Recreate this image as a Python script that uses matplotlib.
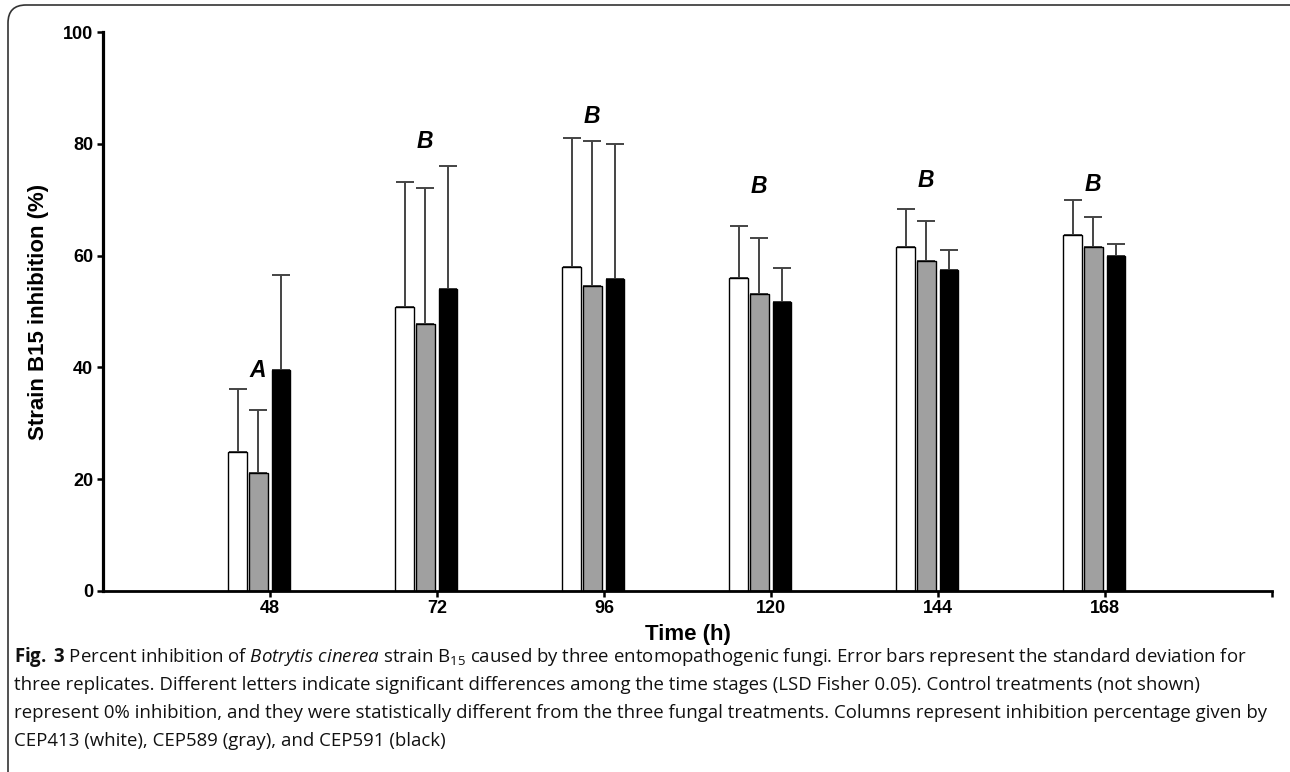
import numpy as np
import matplotlib
matplotlib.use("Agg")
import matplotlib.pyplot as plt
from matplotlib.patches import FancyBboxPatch
from matplotlib.transforms import IdentityTransform
from matplotlib.font_manager import FontProperties

# values (percent inhibition, upper SD)
times = ["48", "72", "96", "120", "144", "168"]
cep413 = [24.8, 50.8, 58.0, 56.0, 61.5, 63.7]
cep413_sd = [11.3, 22.4, 23.0, 9.3, 6.9, 6.3]
cep589 = [21.0, 47.7, 54.5, 53.2, 59.0, 61.5]
cep589_sd = [11.3, 24.4, 26.1, 10.0, 7.2, 5.5]
cep591 = [39.5, 54.0, 55.8, 51.7, 57.5, 59.9]
cep591_sd = [17.1, 22.0, 24.1, 6.0, 3.5, 2.2]
letters = ["A", "B", "B", "B", "B", "B"]
letter_y = [39.5, 80.5, 84.9, 72.3, 73.4, 72.8]

plt.rcParams["mathtext.fontset"] = "custom"
plt.rcParams["mathtext.rm"] = "Open Sans"
plt.rcParams["mathtext.it"] = "Open Sans:italic"
plt.rcParams["mathtext.bf"] = "Open Sans:bold"


def arial_bold(size, italic=False):
    return FontProperties(family="Liberation Sans", weight="bold", stretch="normal",
                          style="italic" if italic else "normal", size=size)


fig = plt.figure(figsize=(12.9, 7.72), dpi=100)
ax = fig.add_axes([103 / 1290, 1 - 590.7 / 772, (1272 - 103) / 1290, (590.7 - 32.2) / 772])

x = np.arange(len(times))
width = 0.11
series = [
    (cep413, cep413_sd, "white", -0.194),
    (cep589, cep589_sd, "#a0a0a0", -0.069),
    (cep591, cep591_sd, "black", 0.067),
]
for vals, sd, color, off in series:
    ax.bar(x + off, vals, width, color=color, edgecolor="black", linewidth=1.0, zorder=2)
    ax.errorbar(x + off, vals, yerr=[np.zeros(len(sd)), sd], fmt="none",
                ecolor="#444444", elinewidth=1.4, capsize=6.5, capthick=1.4, zorder=1)

for xi, lab, ly in zip(x, letters, letter_y):
    ax.text(xi - 0.075, ly, lab, ha="center", va="center",
            fontproperties=arial_bold(16.5, italic=True))

ax.set_xlim(-1, 6)
ax.set_ylim(0, 100)
ax.set_xticks(list(x) + [6])
ax.set_xticklabels(times + [""])
ax.set_yticks(np.arange(0, 101, 20))

for side in ["top", "right"]:
    ax.spines[side].set_visible(False)
ax.spines["left"].set_linewidth(2.3)
ax.spines["bottom"].set_linewidth(2.0)
ax.tick_params(direction="out", length=4, width=1.8, pad=3)
for lab in ax.get_xticklabels() + ax.get_yticklabels():
    lab.set_fontproperties(arial_bold(13))

ax.set_xlabel("Time (h)", fontproperties=arial_bold(16), labelpad=5)
ax.set_ylabel("Strain B15 inhibition (%)", fontproperties=arial_bold(16), labelpad=10)

# caption
cap_lines = [
    r"$\mathbf{Fig.\;3}$ Percent inhibition of $\mathit{Botrytis\ cinerea}$ strain B$_{15}$ caused by three entomopathogenic fungi. Error bars represent the standard deviation for",
    "three replicates. Different letters indicate significant differences among the time stages (LSD Fisher 0.05). Control treatments (not shown)",
    "represent 0% inhibition, and they were statistically different from the three fungal treatments. Columns represent inhibition percentage given by",
    "CEP413 (white), CEP589 (gray), and CEP591 (black)",
]
line_y = [657, 685, 713, 741]
for txt, yy in zip(cap_lines, line_y):
    fig.text(14 / 1290, 1 - yy / 772, txt, ha="left", va="center", fontsize=13.45,
             family="Open Sans", color="#111111")

# panel frame
frame = FancyBboxPatch((8, -30), 1300, 797, boxstyle="round,pad=0,rounding_size=18",
                       transform=IdentityTransform(), fill=False, edgecolor="#333333",
                       linewidth=1.2)
fig.patches.append(frame)

fig.savefig("out.png", dpi=100)
